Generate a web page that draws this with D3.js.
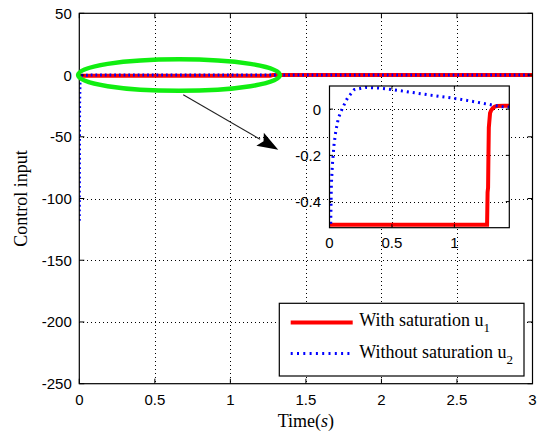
<!DOCTYPE html>
<html>
<head>
<meta charset="utf-8">
<script src="https://cdn.jsdelivr.net/npm/d3@7"></script>
<style>
  html, body { margin: 0; padding: 0; background: #fff; }
  svg { display: block; }
  .tick-label { font-family: "Liberation Sans", Arial, sans-serif; font-size: 15px; fill: #000; }
  .serif { font-family: "Liberation Serif", "Times New Roman", serif; font-size: 18px; fill: #000; }
</style>
</head>
<body>
<svg id="chart" width="540" height="436"></svg>
<script>
// Time axis ticks and control-input ticks for the main axes
const mainXTicks = [0, 0.5, 1, 1.5, 2, 2.5, 3];
const mainYTicks = [-250, -200, -150, -100, -50, 0, 50];
// Zoomed view ticks
const insetXTicks = [0, 0.5, 1];
const insetYTicks = [-0.4, -0.2, 0];

// u1: control input with saturation (limited at -0.5)
const timeU1 = [0, 1.262, 1.266, 1.27, 1.273, 1.276, 1.28, 1.286, 1.295, 1.308, 1.322, 1.34, 1.4, 1.44, 1.6, 2, 2.5, 3];
const u1 =     [-0.5, -0.5, -0.36, -0.34, -0.2, -0.08, -0.054, -0.017, -0.005, 0.004, 0.01, 0.014, 0.015, 0.015, 0.01, 0.004, 0.001, 0];

// u2: control input without saturation
const timeU2 = [0, 0.002, 0.005, 0.008, 0.01, 0.015, 0.023, 0.036, 0.05, 0.071, 0.103, 0.144, 0.198, 0.29, 0.4, 0.51, 0.7, 0.88, 1.02, 1.15, 1.26, 1.37, 1.43, 1.6, 2, 2.5, 3];
const u2 =     [-118, -24, -4.2, -1.1, -0.487, -0.328, -0.241, -0.155, -0.097, -0.039, 0.004, 0.048, 0.084, 0.094, 0.091, 0.084, 0.069, 0.055, 0.045, 0.033, 0.022, 0.011, 0.009, 0.004, 0.001, 0, 0];

const seriesNames = ["With saturation u", "Without saturation u"];
const seriesSubs = ["1", "2"];

const svg = d3.select("#chart");

const main = { left: 79.3, right: 532.5, top: 13.3, bottom: 383.7 };
const inset = { left: 329.5, right: 509.3, top: 86, bottom: 227.7 };

const x = d3.scaleLinear().domain([0, 3]).range([main.left, main.right]);
const y = d3.scaleLinear().domain([-250, 50]).range([main.bottom, main.top]);
const xi = d3.scaleLinear().domain([0, 1.44]).range([inset.left, inset.right]);
const yi = d3.scaleLinear().domain([-0.513, 0.1]).range([inset.bottom, inset.top]);

const d1 = timeU1.map((t, i) => [t, u1[i]]);
const d2 = timeU2.map((t, i) => [t, u2[i]]);

const defs = svg.append("defs");
defs.append("clipPath").attr("id", "clipMain").append("rect")
  .attr("x", main.left).attr("y", main.top)
  .attr("width", main.right - main.left).attr("height", main.bottom - main.top);
defs.append("clipPath").attr("id", "clipInset").append("rect")
  .attr("x", inset.left).attr("y", inset.top)
  .attr("width", inset.right - inset.left).attr("height", inset.bottom - inset.top);

// draws grid, inward ticks on all four sides, and the box for one set of axes
function drawAxesFrame(g, xs, ys, xt, yt, box, tickLen) {
  const grid = g.append("g").attr("stroke", "#000").attr("stroke-width", 1)
    .attr("stroke-dasharray", "1,3").attr("shape-rendering", "crispEdges");
  xt.forEach(v => {
    if (Math.abs(xs(v) - box.left) < 1 || Math.abs(xs(v) - box.right) < 1) return;
    grid.append("line").attr("x1", Math.round(xs(v)) + 0.5).attr("x2", Math.round(xs(v)) + 0.5)
      .attr("y1", box.top).attr("y2", box.bottom);
  });
  yt.forEach(v => {
    if (Math.abs(ys(v) - box.top) < 1 || Math.abs(ys(v) - box.bottom) < 1) return;
    grid.append("line").attr("y1", Math.round(ys(v)) + 0.5).attr("y2", Math.round(ys(v)) + 0.5)
      .attr("x1", box.left).attr("x2", box.right);
  });
}

function drawBoxAndTicks(g, xs, ys, xt, yt, box, tickLen) {
  const t = g.append("g").attr("stroke", "#000").attr("stroke-width", 1);
  xt.forEach(v => {
    const px = xs(v);
    t.append("line").attr("x1", px).attr("x2", px).attr("y1", box.bottom).attr("y2", box.bottom - tickLen);
    t.append("line").attr("x1", px).attr("x2", px).attr("y1", box.top).attr("y2", box.top + tickLen);
  });
  yt.forEach(v => {
    const py = ys(v);
    t.append("line").attr("y1", py).attr("y2", py).attr("x1", box.left).attr("x2", box.left + tickLen);
    t.append("line").attr("y1", py).attr("y2", py).attr("x1", box.right).attr("x2", box.right - tickLen);
  });
  g.append("rect").attr("x", box.left).attr("y", box.top)
    .attr("width", box.right - box.left).attr("height", box.bottom - box.top)
    .attr("fill", "none").attr("stroke", "#000").attr("stroke-width", 1.2);
}

function drawTickLabels(g, xs, ys, xt, yt, box, xOff, yOff) {
  g.selectAll(null).data(xt).enter().append("text")
    .attr("class", "tick-label").attr("x", d => xs(d)).attr("y", box.bottom + yOff)
    .attr("text-anchor", "middle").text(d => d3.format("")(d));
  g.selectAll(null).data(yt).enter().append("text")
    .attr("class", "tick-label").attr("x", box.left - xOff).attr("y", d => ys(d) + 5.5)
    .attr("text-anchor", "end").text(d => String(d).replace("-", "-"));
}

// ---- main axes ----
const gMain = svg.append("g");
drawAxesFrame(gMain, x, y, mainXTicks, mainYTicks, main, 5);

const lineMain = d3.line().x(d => x(d[0])).y(d => y(d[1]));
const mainLines = gMain.append("g").attr("clip-path", "url(#clipMain)");
mainLines.append("path").datum(d1).attr("d", lineMain)
  .attr("fill", "none").attr("stroke", "#ff0000").attr("stroke-width", 4);
mainLines.append("path").datum(d2).attr("d", lineMain)
  .attr("fill", "none").attr("stroke", "#0000ff").attr("stroke-width", 3)
  .attr("stroke-dasharray", "1.8,2.9");

drawBoxAndTicks(gMain, x, y, mainXTicks, mainYTicks, main, 5);
drawTickLabels(gMain, x, y, mainXTicks, mainYTicks, main, 7.5, 21);

// axis titles
const xTitle = svg.append("text").attr("class", "serif")
  .attr("x", (main.left + main.right) / 2).attr("y", 427).attr("text-anchor", "middle");
xTitle.append("tspan").text("Time(");
xTitle.append("tspan").attr("font-style", "italic").text("s");
xTitle.append("tspan").text(")");

svg.append("text").attr("class", "serif")
  .attr("transform", `translate(27,${(main.top + main.bottom) / 2}) rotate(-90)`)
  .attr("text-anchor", "middle").text("Control input");

// ---- highlight ellipse around the early response, and arrow to the zoomed view ----
const ellCx = 0.66, ellRx = 0.668, ellRy = 12.8;
svg.append("ellipse")
  .attr("cx", x(ellCx)).attr("cy", y(0))
  .attr("rx", x(ellCx + ellRx) - x(ellCx)).attr("ry", y(-ellRy) - y(0))
  .attr("fill", "none").attr("stroke", "#11ee11").attr("stroke-width", 4.5);

const arrowFrom = [0.688, -16], arrowTo = [1.317, -60.6];
const ax0 = x(arrowFrom[0]), ay0 = y(arrowFrom[1]);
const ax1 = x(arrowTo[0]), ay1 = y(arrowTo[1]);
const ang = Math.atan2(ay1 - ay0, ax1 - ax0);
const headLen = 21, headHalf = 7.5;
const bx = ax1 - headLen * Math.cos(ang), by = ay1 - headLen * Math.sin(ang);
svg.append("line").attr("x1", ax0).attr("y1", ay0).attr("x2", bx).attr("y2", by)
  .attr("stroke", "#222").attr("stroke-width", 1.1);
svg.append("path")
  .attr("d", `M${ax1},${ay1} L${bx - headHalf * Math.sin(ang)},${by + headHalf * Math.cos(ang)} ` +
             `L${bx + 4 * Math.cos(ang)},${by + 4 * Math.sin(ang)} ` +
             `L${bx + headHalf * Math.sin(ang)},${by - headHalf * Math.cos(ang)} Z`)
  .attr("fill", "#000");

// ---- zoomed inset ----
const gInset = svg.append("g");
gInset.append("rect").attr("x", inset.left).attr("y", inset.top)
  .attr("width", inset.right - inset.left).attr("height", inset.bottom - inset.top)
  .attr("fill", "#fff");
drawAxesFrame(gInset, xi, yi, insetXTicks, insetYTicks, inset, 3.5);

const lineInset = d3.line().x(d => xi(d[0])).y(d => yi(d[1]));
const insetLines = gInset.append("g").attr("clip-path", "url(#clipInset)");
insetLines.append("path").datum(d1).attr("d", lineInset)
  .attr("fill", "none").attr("stroke", "#ff0000").attr("stroke-width", 4);
insetLines.append("path").datum(d2).attr("d", lineInset)
  .attr("fill", "none").attr("stroke", "#0000ff").attr("stroke-width", 3)
  .attr("stroke-dasharray", "2,4");

drawBoxAndTicks(gInset, xi, yi, insetXTicks, insetYTicks, inset, 3.5);
drawTickLabels(gInset, xi, yi, insetXTicks, insetYTicks, inset, 8.5, 20);

// ---- legend ----
const leg = { left: 279.3, top: 303.3, right: 524, bottom: 376 };
const gLeg = svg.append("g");
gLeg.append("rect").attr("x", leg.left).attr("y", leg.top)
  .attr("width", leg.right - leg.left).attr("height", leg.bottom - leg.top)
  .attr("fill", "#fff").attr("stroke", "#000").attr("stroke-width", 1.2);
const legStyles = [
  { stroke: "#ff0000", width: 3.8, dash: null },
  { stroke: "#0000ff", width: 3, dash: "2,4.3" }
];
seriesNames.forEach((name, i) => {
  const ly = 322.5 + i * 31;
  const ln = gLeg.append("line").attr("x1", 290.7).attr("x2", 352.7).attr("y1", ly).attr("y2", ly)
    .attr("stroke", legStyles[i].stroke).attr("stroke-width", legStyles[i].width);
  if (legStyles[i].dash) ln.attr("stroke-dasharray", legStyles[i].dash);
  const txt = gLeg.append("text").attr("class", "serif").attr("x", 359.3).attr("y", 326 + i * 32.3);
  txt.append("tspan").text(name);
  txt.append("tspan").attr("font-size", "13px").attr("dy", 6).text(seriesSubs[i]);
});
</script>
</body>
</html>
